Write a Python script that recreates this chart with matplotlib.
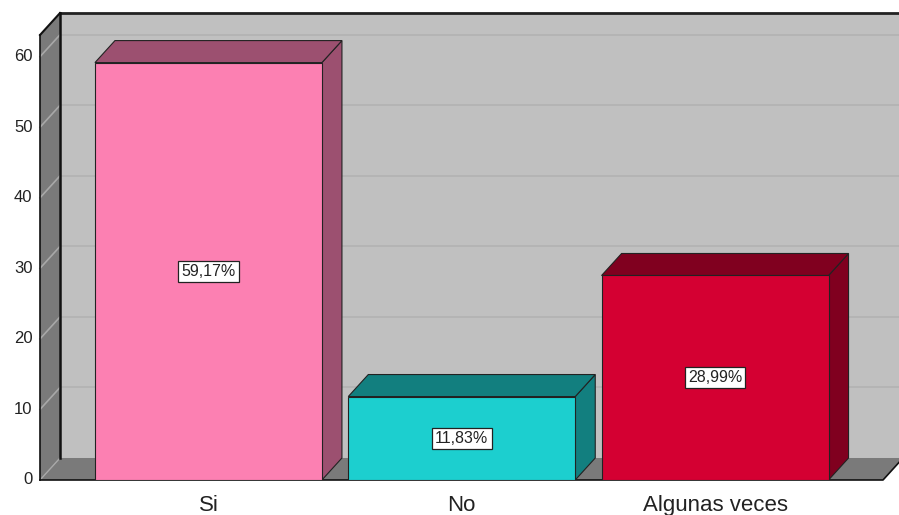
import matplotlib
matplotlib.use("Agg")
import matplotlib.pyplot as plt
from matplotlib.patches import Polygon, Rectangle

plt.rcParams['font.family'] = ['Liberation Sans', 'DejaVu Sans']

categories = ["Si", "No", "Algunas veces"]
percentages = [59.17, 11.83, 28.99]
bar_labels = ["59,17%", "11,83%", "28,99%"]
yticks = [0, 10, 20, 30, 40, 50, 60]

front_colors = ["#fc80b2", "#1ccfcf", "#d40032"]
side_colors = ["#9c5070", "#127f7f", "#80001f"]

fig = plt.figure(figsize=(8.99, 5.15), dpi=100)
ax = fig.add_axes([40 / 899, 35 / 515, 843 / 899, 467 / 515])
xmin, xmax = -0.665, 2.663
ymin, ymax = 0, 66.2
ax.set_xlim(xmin, xmax)
ax.set_ylim(ymin, ymax)
ax.axis("off")

dx = 0.079   # depth offset in x units
dy = 3.12    # depth offset in y units
width = 0.896
wall = "#c0c0c0"
dark = "#7a7a7a"

# back wall
ax.add_patch(Rectangle((xmin + dx, dy), xmax - xmin + 1, ymax - dy,
                       facecolor=wall, edgecolor="none", clip_on=False, zorder=0))
for v in yticks[1:]:
    ax.plot([xmin + dx, xmax + 1], [v + dy, v + dy], color="#b2b2b2", lw=1.2,
            clip_on=False, zorder=1)
    ax.plot([xmin, xmin + dx], [v, v + dy], color="#a8a8a8", lw=1.2,
            clip_on=False, zorder=3)

# left wall
ax.add_patch(Polygon([(xmin, 0), (xmin + dx, dy), (xmin + dx, ymax), (xmin, ymax - dy)],
                     closed=True, facecolor=dark, edgecolor="none", clip_on=False, zorder=2))
# floor
ax.add_patch(Polygon([(xmin, 0), (xmax, 0), (xmax + dx, dy), (xmin + dx, dy)],
                     closed=True, facecolor=dark, edgecolor="none", clip_on=False, zorder=2))
ax.plot([xmin, xmin + dx], [0, dy], color="#a8a8a8", lw=1, clip_on=False, zorder=3)

# outlines
ax.plot([xmin + dx, xmax + 1], [ymax, ymax], color="#222222", lw=2, clip_on=False, zorder=4)
ax.plot([xmin + dx, xmin + dx], [dy, ymax], color="#111111", lw=1.8, clip_on=False, zorder=4)
ax.plot([xmin, xmin + dx], [ymax - dy, ymax], color="#111111", lw=1.5, clip_on=False, zorder=4)
ax.plot([xmin, xmin], [0, ymax - dy], color="#111111", lw=1.2, clip_on=False, zorder=4)
ax.plot([xmin, xmax, xmax + dx], [0, 0, dy], color="#111111", lw=1.2, clip_on=False, zorder=4)

# bars
for i, (val, fc, sc, lab) in enumerate(zip(percentages, front_colors, side_colors, bar_labels)):
    x0 = i - width / 2
    x1 = i + width / 2
    ax.add_patch(Polygon([(x1, 0), (x1 + dx, dy), (x1 + dx, val + dy), (x1, val)],
                         closed=True, facecolor=sc, edgecolor="#222222", lw=0.8, zorder=5))
    ax.add_patch(Polygon([(x0, val), (x0 + dx, val + dy), (x1 + dx, val + dy), (x1, val)],
                         closed=True, facecolor=sc, edgecolor="#222222", lw=0.8, zorder=5))
    ax.add_patch(Rectangle((x0, 0), width, val, facecolor=fc, edgecolor="#222222",
                           lw=0.8, zorder=6))
    ax.text(i, val / 2, lab, ha="center", va="center", fontsize=11.5, zorder=7,
            color="#222222",
            bbox=dict(boxstyle="square,pad=0.2", facecolor="white", edgecolor="#222222", lw=0.9))

# tick labels
for v in yticks:
    ax.text(xmin - 0.03, v, str(v), ha="right", va="center", fontsize=12,
            color="#222222", clip_on=False)
for i, c in enumerate(categories):
    ax.text(i, -2.1, c, ha="center", va="top", fontsize=16, color="#222222",
            clip_on=False)

fig.savefig("out.png", dpi=100, facecolor="white")
